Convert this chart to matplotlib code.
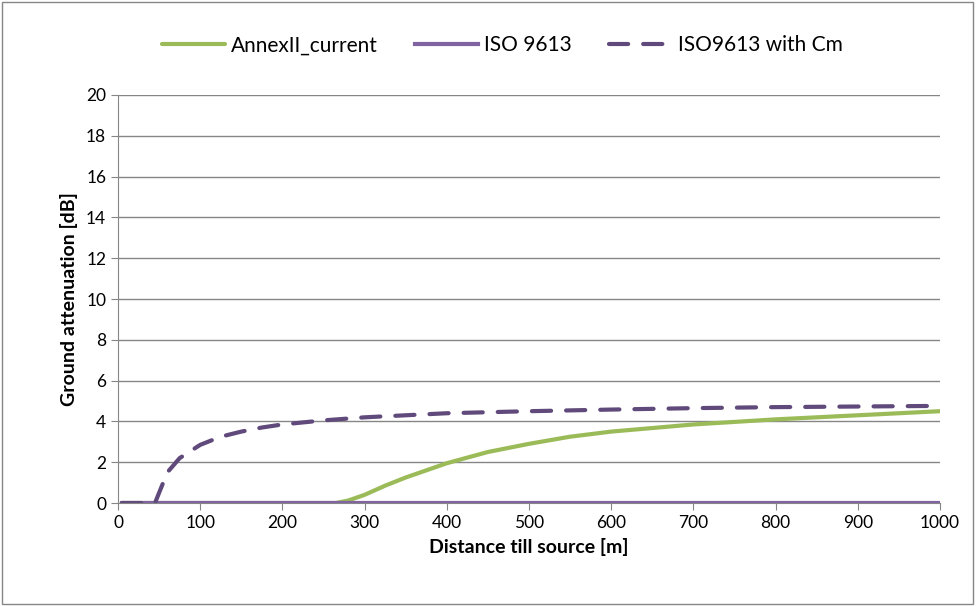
import matplotlib.pyplot as plt
from matplotlib.patches import Rectangle

# distances [m] and ground attenuation [dB]
annex_x = [5, 100, 200, 265, 280, 300, 325, 350, 400, 450, 500, 550, 600, 700, 800, 900, 1000]
annex_y = [0, 0, 0, 0, 0.12, 0.4, 0.85, 1.25, 1.95, 2.5, 2.9, 3.25, 3.5, 3.85, 4.1, 4.3, 4.5]

iso_x = [5, 1000]
iso_y = [0, 0]

cm_x = [5, 20, 40, 45, 50, 60, 75, 100, 125, 150, 175, 200, 250, 300, 400, 500, 600, 700, 800, 900, 1000]
cm_y = [0, 0, 0, 0, 0.5, 1.5, 2.2, 2.85, 3.25, 3.5, 3.7, 3.85, 4.05, 4.2, 4.4, 4.5, 4.58, 4.65, 4.7, 4.73, 4.76]

xticks = list(range(0, 1001, 100))
yticks = list(range(0, 21, 2))

plt.rcParams['font.family'] = ['Lato', 'DejaVu Sans']

fig = plt.figure(figsize=(9.76, 6.06), dpi=100)
ax = fig.add_axes([118/976, 103/606, 822/976, 408/606])

ax.plot(annex_x, annex_y, color='#9BBB59', lw=3, label='AnnexII_current', solid_capstyle='round')
ax.plot(iso_x, iso_y, color='#8064A2', lw=3, label='ISO 9613')
ax.plot(cm_x, cm_y, color='#604A7B', lw=3, ls=(0, (4.6, 3.6)), dash_capstyle='round',
        label='ISO9613 with Cm')

ax.set_xlim(0, 1000)
ax.set_ylim(0, 20)
ax.set_xticks(xticks)
ax.set_yticks(yticks)
ax.tick_params(labelsize=12.5, color='#868686', length=5, direction='out')
ax.yaxis.grid(True, color='#868686', lw=1)
ax.set_axisbelow(True)
for s in ['top', 'right']:
    ax.spines[s].set_visible(False)
for s in ['left', 'bottom']:
    ax.spines[s].set_color('#868686')

ax.set_xlabel('Distance till source [m]', fontsize=14, fontweight='bold', labelpad=5)
ax.set_ylabel('Ground attenuation [dB]', fontsize=14, fontweight='bold', labelpad=6)

fig.legend(loc='center', bbox_to_anchor=(0.515, 0.925), ncol=3, frameon=False,
           fontsize=15, handlelength=3.0, columnspacing=1.8, handletextpad=0.3)

fig.patches.append(Rectangle((0.002, 0.003), 0.995, 0.994, transform=fig.transFigure,
                             fill=False, edgecolor='#868686', lw=1))

plt.savefig('out.png', dpi=100)
